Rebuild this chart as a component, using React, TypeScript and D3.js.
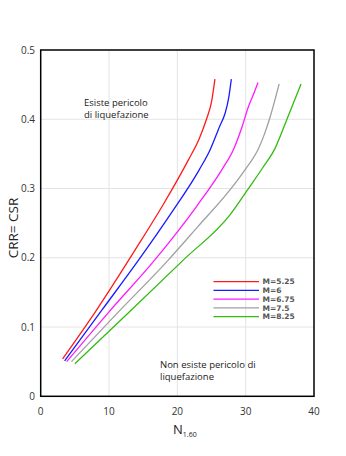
import React from "react";
import * as d3 from "d3";

const W = 346;
const H = 456;

const xTicks = [0, 10, 20, 30, 40];
const yTicks = [0, 0.1, 0.2, 0.3, 0.4, 0.5];
const yTickLabels = ["0", "0.1", "0.2", "0.3", "0.4", "0.5"];

const seriesNames = ["M=5.25", "M=6", "M=6.75", "M=7.5", "M=8.25"];
const seriesColors = ["#ff1a1a", "#1a1aff", "#ff1aff", "#a0a0a0", "#33bb11"];

const m525: [number, number][] = [[3.2, 0.054], [8, 0.122], [13.8, 0.211], [18, 0.278], [21.6, 0.341], [23.2, 0.372], [24.3, 0.401], [25.0, 0.425], [25.5, 0.458]];
const m6: [number, number][] = [[3.5, 0.051], [9, 0.125], [14.5, 0.199], [19, 0.263], [23.2, 0.327], [24.8, 0.356], [26.2, 0.39], [27.0, 0.409], [27.5, 0.43], [27.9, 0.458]];
const m675: [number, number][] = [[3.8, 0.05], [10, 0.122], [16.7, 0.197], [22.8, 0.274], [26.5, 0.327], [28.2, 0.356], [29.5, 0.39], [30.4, 0.418], [31.1, 0.435], [31.8, 0.453]];
const m75: [number, number][] = [[4.5, 0.05], [11, 0.118], [18.7, 0.197], [23, 0.245], [27.7, 0.298], [29.9, 0.327], [31.9, 0.358], [32.8, 0.38], [33.6, 0.404], [34.9, 0.451]];
const m825: [number, number][] = [[5.0, 0.047], [13, 0.122], [20.9, 0.197], [27.7, 0.262], [30.4, 0.3], [32.5, 0.33], [34.3, 0.358], [36.0, 0.399], [38.1, 0.451]];

const seriesData = [m525, m6, m675, m75, m825];

const font = "'Open Sans', 'DejaVu Sans', sans-serif";

export default function App() {
  const x = d3.scaleLinear().domain([0, 40]).range([40.7, 314]);
  const y = d3.scaleLinear().domain([0, 0.5]).range([396.3, 50]);
  const line = d3
    .line<[number, number]>()
    .x((d) => x(d[0]))
    .y((d) => y(d[1]))
    .curve(d3.curveMonotoneX);

  const legX0 = 213.5;
  const legX1 = 259;
  const legY0 = 281.7;
  const legDy = 8.75;

  return (
    <svg width={W} height={H} style={{ position: "absolute", left: 0, top: 0, background: "#fff" }}>
      <rect x={0} y={0} width={W} height={H} fill="#fff" />
      {xTicks.slice(1, -1).map((t) => (
        <line key={"gx" + t} x1={x(t)} x2={x(t)} y1={y(0)} y2={y(0.5)} stroke="#e3e3e3" strokeWidth={1} />
      ))}
      {yTicks.slice(1, -1).map((t) => (
        <line key={"gy" + t} x1={x(0)} x2={x(40)} y1={y(t)} y2={y(t)} stroke="#e3e3e3" strokeWidth={1} />
      ))}
      {seriesData.map((s, i) => (
        <path key={i} d={line(s) || ""} fill="none" stroke={seriesColors[i]} strokeWidth={1.3} />
      ))}
      <rect x={x(0)} y={y(0.5)} width={x(40) - x(0)} height={y(0) - y(0.5)} fill="none" stroke="#000" strokeWidth={1.5} />
      {yTicks.map((t, i) => (
        <text key={"yt" + t} x={35} y={y(t)} dy="0.35em" textAnchor="end" fontFamily={font} fontSize={10} fill="#333">
          {yTickLabels[i]}
        </text>
      ))}
      {xTicks.map((t) => (
        <text key={"xt" + t} x={x(t)} y={411} dy="0.35em" textAnchor="middle" fontFamily={font} fontSize={10} fill="#333">
          {t}
        </text>
      ))}
      <text transform={`translate(13,${228}) rotate(-90)`} textAnchor="middle" dy="0.35em" fontFamily={font} fontSize={13.5} fill="#222">
        CRR= CSR
      </text>
      <text x={173} y={434} fontFamily={font} fontSize={13} fill="#222">
        N<tspan fontSize={7} dy={3}>1.60</tspan>
      </text>
      <text x={84} y={102.5} dy="0.35em" fontFamily={font} fontSize={9.5} fill="#222">Esiste pericolo</text>
      <text x={84} y={115} dy="0.35em" fontFamily={font} fontSize={9.5} fill="#222">di liquefazione</text>
      <text x={160} y={364.5} dy="0.35em" fontFamily={font} fontSize={9.5} fill="#222">Non esiste pericolo di</text>
      <text x={160} y={377} dy="0.35em" fontFamily={font} fontSize={9.5} fill="#222">liquefazione</text>
      {seriesNames.map((n, i) => (
        <g key={n}>
          <line x1={legX0} x2={legX1} y1={legY0 + i * legDy} y2={legY0 + i * legDy} stroke={seriesColors[i]} strokeWidth={1.3} />
          <text x={legX1 + 3.5} y={legY0 + i * legDy} dy="0.35em" fontFamily="'DejaVu Sans', sans-serif" fontWeight="bold" fontSize={7.5} fill="#555">
            {n}
          </text>
        </g>
      ))}
    </svg>
  );
}
